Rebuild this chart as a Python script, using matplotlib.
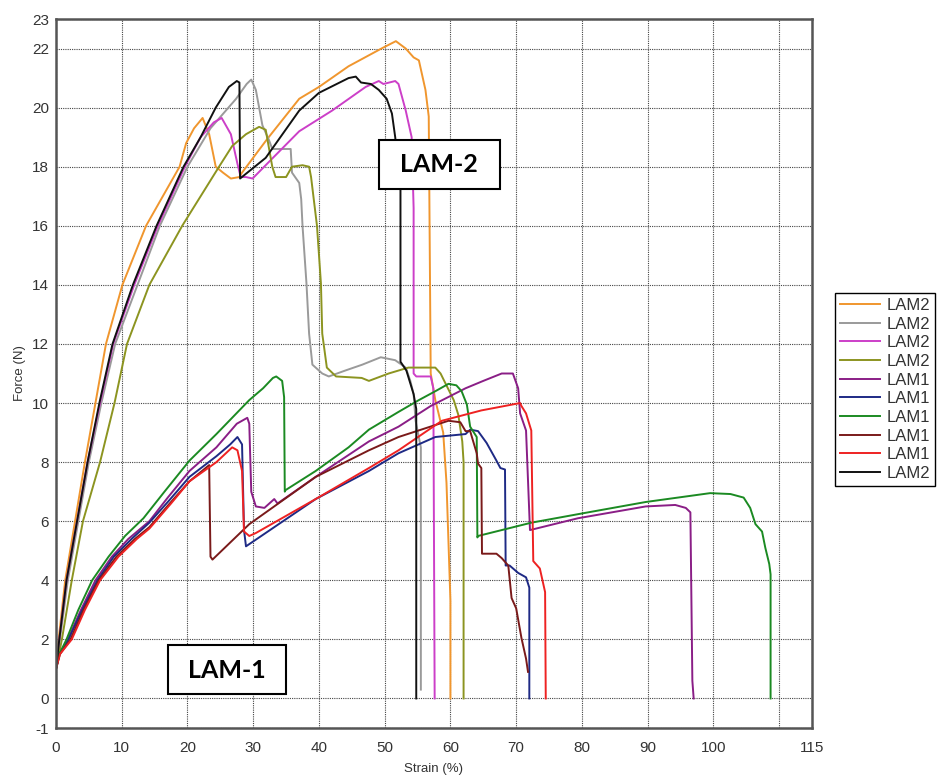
import matplotlib
matplotlib.use('Agg')
import matplotlib.pyplot as plt
from matplotlib.patches import Rectangle

# Curve data (strain %, force N)

orange_x = [0, 0.4, 1.4, 2.9, 4.4, 6.0, 7.6, 10.1, 13.7, 18.8, 19.8, 21.0, 22.3, 23.3, 24.3, 25.4, 26.6, 27.9, 28.3, 32.0,
            37.0, 40.0, 44.5, 49.5, 51.7, 53.2, 54.4, 55.2, 56.2, 56.7, 57.0, 57.7, 58.9, 59.4, 59.7, 60.0, 60.0]
orange_y = [1.0, 2.0, 4.0, 6.0, 8.0, 10.0, 12.0, 14.0, 16.0, 18.0, 18.8, 19.3, 19.65, 19.1, 18.0, 17.8, 17.6, 17.65, 17.8, 18.9,
            20.3, 20.7, 21.4, 22.0, 22.25, 22.0, 21.7, 21.6, 20.6, 19.7, 11.0, 10.1, 9.0, 7.3, 5.3, 3.3, 0.0]

gray_x = [0, 0.6, 1.8, 3.4, 5.0, 6.9, 9.0, 12.4, 15.8, 20.0, 23.5, 27.4, 29.0, 29.7, 30.4, 31.4, 32.4, 32.9, 35.7, 35.9,
          37.0, 37.3, 37.5, 38.1, 38.5, 39.0, 40.5, 41.5, 44.0, 46.6, 49.4, 51.6, 53.2, 53.9, 54.4, 54.7, 55.5, 55.5]
gray_y = [1.0, 2.0, 4.0, 6.0, 8.0, 10.0, 12.0, 14.0, 16.0, 18.0, 19.3, 20.3, 20.8, 20.95, 20.6, 19.4, 18.9, 18.6, 18.6, 17.8,
          17.45, 16.9, 16.0, 14.05, 12.35, 11.3, 11.0, 10.9, 11.1, 11.3, 11.55, 11.45, 11.2, 10.75, 10.3, 9.4, 8.5, 0.3]

magenta_x = [0, 0.5, 1.6, 3.2, 4.8, 6.7, 8.7, 11.9, 15.5, 19.6, 22.0, 24.0, 25.2, 26.6, 27.6, 28.1, 28.9, 29.9, 33.0, 37.0,
             42.0, 47.1, 49.1, 49.8, 51.6, 52.1, 53.2, 54.1, 54.4, 54.4, 54.8, 57.0, 57.4, 57.6]
magenta_y = [1.0, 2.0, 4.0, 6.0, 8.0, 10.0, 12.0, 14.0, 16.0, 18.0, 19.0, 19.5, 19.65, 19.1, 18.1, 17.65, 17.65, 17.6, 18.3, 19.2,
             19.9, 20.7, 20.9, 20.8, 20.9, 20.8, 19.9, 19.0, 16.6, 11.0, 10.9, 10.9, 10.5, 0.0]

olive_x = [0, 0.9, 2.4, 4.1, 6.7, 8.9, 10.8, 14.2, 19.2, 24.8, 26.8, 28.9, 30.9, 31.9, 32.9, 33.4, 35.0, 35.9, 37.5, 38.5,
           38.8, 39.7, 40.3, 40.5, 41.2, 42.6, 46.5, 47.6, 50.6, 53.6, 56.7, 57.7, 58.5, 60.5, 61.2, 61.8, 62.0, 62.0]
olive_y = [1.0, 2.0, 4.0, 6.0, 8.0, 10.0, 12.0, 14.0, 16.0, 18.0, 18.7, 19.1, 19.35, 19.25, 18.0, 17.65, 17.65, 18.0, 18.05, 18.0,
           17.65, 16.0, 14.05, 12.35, 11.2, 10.9, 10.85, 10.75, 11.0, 11.2, 11.2, 11.2, 11.0, 10.1, 9.6, 8.7, 8.0, 0.0]

purple_x = [0, 0.5, 1.8, 3.8, 6.0, 8.5, 11.0, 14.2, 17.0, 20.3, 24.4, 27.5, 29.1, 29.4, 29.7, 30.4, 31.7, 33.2, 33.7, 39.5,
            47.6, 52.1, 57.0, 62.3, 65.0, 67.8, 69.5, 70.3, 70.6, 71.5, 72.0, 72.1, 79.4, 89.7, 94.2, 95.8, 96.5, 96.8, 97.0]
purple_y = [1.0, 1.5, 2.0, 3.0, 4.0, 4.8, 5.4, 6.0, 6.8, 7.7, 8.5, 9.3, 9.5, 9.3, 7.0, 6.5, 6.45, 6.75, 6.6, 7.5,
            8.7, 9.2, 9.9, 10.5, 10.75, 11.0, 11.0, 10.5, 9.65, 9.07, 6.25, 5.7, 6.1, 6.5, 6.55, 6.45, 6.3, 0.6, 0.0]

navy_x = [0, 0.5, 1.9, 4.0, 6.3, 8.8, 11.5, 14.2, 17.2, 20.3, 24.4, 26.5, 27.6, 28.3, 28.6, 28.9, 29.9, 39.5, 47.6, 52.1,
          57.7, 62.3, 63.0, 64.2, 65.5, 67.0, 67.6, 68.3, 68.4, 69.0, 70.3, 71.5, 72.0, 72.0]
navy_y = [1.0, 1.5, 2.0, 3.0, 4.0, 4.8, 5.4, 5.95, 6.7, 7.5, 8.2, 8.6, 8.85, 8.6, 5.7, 5.15, 5.3, 6.75, 7.7, 8.3,
          8.85, 8.95, 9.1, 9.05, 8.65, 8.05, 7.8, 7.75, 4.5, 4.5, 4.25, 4.1, 3.75, 0.0]

green_x = [0, 0.5, 1.6, 3.4, 5.5, 8.0, 10.5, 13.3, 16.5, 20.3, 24.4, 29.4, 31.5, 33.0, 33.5, 34.4, 34.7, 34.8, 34.9, 39.5,
           44.5, 47.6, 52.1, 55.2, 57.7, 59.7, 60.9, 61.7, 62.5, 63.0, 64.0, 64.1, 64.2, 72.3, 79.7, 89.7, 99.5, 102.6, 104.6, 105.6,
           106.4, 107.4, 107.9, 108.5, 108.7, 108.7]
green_y = [1.0, 1.5, 2.0, 3.0, 4.0, 4.8, 5.5, 6.1, 7.0, 8.05, 8.95, 10.1, 10.5, 10.85, 10.9, 10.75, 10.2, 7.0, 7.05, 7.7,
           8.5, 9.1, 9.7, 10.1, 10.4, 10.65, 10.6, 10.4, 9.95, 9.2, 8.85, 5.45, 5.5, 5.95, 6.25, 6.65, 6.95, 6.92, 6.8, 6.45,
           5.9, 5.65, 5.1, 4.55, 4.2, 0.0]

brown_x = [0, 0.6, 2.2, 4.2, 6.5, 9.2, 12.0, 14.2, 17.3, 20.3, 23.3, 23.5, 23.8, 29.4, 39.5, 47.6, 52.1, 59.7, 61.5, 62.3,
           63.0, 64.0, 64.2, 64.7, 64.8, 67.0, 67.8, 68.8, 69.3, 70.0, 70.8, 71.5, 71.8]
brown_y = [1.0, 1.5, 2.0, 3.0, 4.0, 4.8, 5.4, 5.8, 6.6, 7.35, 7.9, 4.8, 4.7, 5.9, 7.5, 8.4, 8.85, 9.4, 9.35, 9.05,
           9.05, 8.3, 7.95, 7.8, 4.9, 4.9, 4.75, 4.5, 3.4, 3.05, 2.05, 1.35, 0.9]

red_x = [0, 0.6, 2.4, 4.4, 6.7, 9.5, 12.3, 14.2, 17.5, 20.3, 24.4, 26.8, 27.6, 28.3, 28.6, 29.4, 30.4, 39.5, 47.6, 52.1,
         58.7, 64.7, 70.6, 70.8, 71.5, 72.3, 72.6, 73.6, 74.4, 74.5]
red_y = [1.0, 1.5, 2.0, 3.0, 4.0, 4.8, 5.4, 5.75, 6.6, 7.35, 8.0, 8.5, 8.4, 7.7, 5.65, 5.5, 5.6, 6.75, 7.8, 8.4,
         9.4, 9.75, 10.0, 9.9, 9.65, 9.07, 4.65, 4.4, 3.6, 0.0]

black_x = [0, 0.5, 1.6, 3.2, 4.8, 6.6, 8.6, 11.7, 15.3, 19.4, 22.0, 24.3, 26.3, 27.5, 27.9, 28.0, 31.9, 37.0, 40.0, 44.5,
           45.6, 46.4, 47.9, 49.1, 50.3, 51.1, 51.6, 52.4, 52.4, 53.3, 54.4, 54.8, 54.8]
black_y = [1.0, 2.0, 4.0, 6.0, 8.0, 10.0, 12.0, 14.0, 16.0, 18.0, 19.0, 20.0, 20.7, 20.9, 20.85, 17.6, 18.3, 19.9, 20.5, 21.0,
           21.05, 20.85, 20.8, 20.6, 20.3, 19.8, 19.0, 17.2, 11.4, 11.1, 10.3, 9.8, 0.0]

# Legend order as in the reference
series = [
    (orange_x, orange_y, '#F0962E', 'LAM2'),
    (gray_x, gray_y, '#9A9A9A', 'LAM2'),
    (magenta_x, magenta_y, '#CC3FC8', 'LAM2'),
    (olive_x, olive_y, '#8C9420', 'LAM2'),
    (purple_x, purple_y, '#8A1E86', 'LAM1'),
    (navy_x, navy_y, '#1E2A85', 'LAM1'),
    (green_x, green_y, '#1B8A22', 'LAM1'),
    (brown_x, brown_y, '#7A1A1A', 'LAM1'),
    (red_x, red_y, '#EE2222', 'LAM1'),
    (black_x, black_y, '#111111', 'LAM2'),
]

x_ticks = [0, 10, 20, 30, 40, 50, 60, 70, 80, 90, 100, 110, 115]
x_labels = ['0', '10', '20', '30', '40', '50', '60', '70', '80', '90', '100', '', '115']
y_ticks = [-1, 0, 2, 4, 6, 8, 10, 12, 14, 16, 18, 20, 22, 23]

plt.rcParams['font.family'] = ['Liberation Sans', 'DejaVu Sans']
plt.rcParams['axes.unicode_minus'] = False

fig = plt.figure(figsize=(9.48, 7.82), dpi=100)
ax = fig.add_axes([56/948, 1 - 728/782, (812-56)/948, (728-19)/782])

for xs, ys, col, lab in series:
    ax.plot(xs, ys, color=col, lw=1.4, label=lab)

ax.set_xlim(0, 115)
ax.set_ylim(-1, 23)
ax.set_xticks(x_ticks)
ax.set_xticklabels(x_labels)
ax.set_yticks(y_ticks)
ax.tick_params(length=0, labelsize=11, labelcolor='#333333')
ax.tick_params(axis='x', pad=9)
ax.tick_params(axis='y', pad=5)
ax.grid(True, color='#444444', linestyle=(0, (1, 1)), linewidth=0.8)
for s in ax.spines.values():
    s.set_color('#555555')
    s.set_linewidth(1.8)

ax.set_xlabel('Strain (%)', fontsize=9.5, color='#333333', labelpad=6)
ax.set_ylabel('Force (N)', fontsize=9.5, color='#333333', labelpad=4)

# Annotation boxes
ax.add_patch(Rectangle((49.1, 17.25), 18.5, 1.66, fc='white', ec='black', lw=1.5, zorder=5))
ax.text(58.3, 18.06, 'LAM-2', ha='center', va='center', fontsize=18, fontweight='bold',
        family='Lato', zorder=6)
ax.add_patch(Rectangle((17.0, 0.14), 18.0, 1.66, fc='white', ec='black', lw=1.5, zorder=5))
ax.text(26.0, 0.95, 'LAM-1', ha='center', va='center', fontsize=18, fontweight='bold',
        family='Lato', zorder=6)

leg = ax.legend(loc='upper left', bbox_to_anchor=(835/948, 1 - 293/782), bbox_transform=fig.transFigure,
                borderaxespad=0, fontsize=12, handlelength=2.4, handletextpad=0.4, labelspacing=0.22,
                borderpad=0.3, fancybox=False, framealpha=1, edgecolor='black')
leg.get_frame().set_linewidth(1.0)
for t in leg.get_texts():
    t.set_color('#333333')

fig.savefig('out.png', dpi=100)
